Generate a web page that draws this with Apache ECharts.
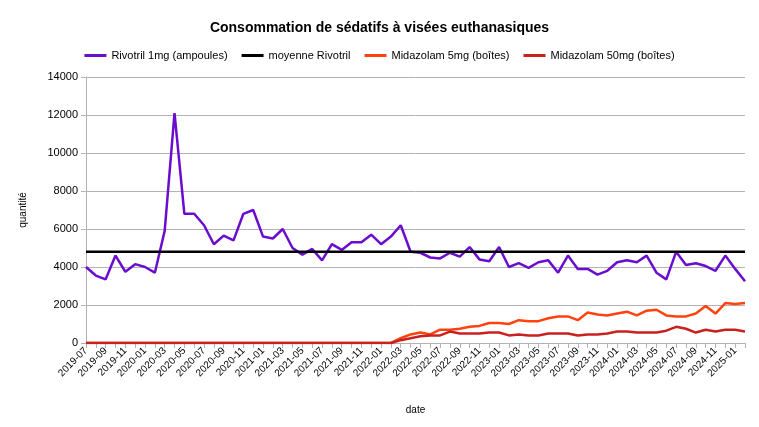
<!DOCTYPE html><html><head><meta charset="utf-8">
<script src="https://cdn.jsdelivr.net/npm/echarts@6/dist/echarts.min.js"></script>
<style>html,body{margin:0;padding:0;background:#fff}#c{width:759px;height:427px}</style></head><body><div id="c"></div>
<script>
const months=[];for(let y=2019;y<=2025;y++)for(let m=1;m<=12;m++){if((y===2019&&m<7)||(y===2025&&m>2))continue;months.push(y+'-'+String(m).padStart(2,'0'));}
const rivotril=[4000,3550,3350,4600,3750,4150,4000,3700,5900,12100,6800,6800,6200,5200,5650,5400,6800,7000,5600,5500,6000,5000,4650,4950,4350,5200,4900,5300,5300,5700,5200,5600,6200,4800,4750,4500,4450,4750,4550,5050,4400,4300,5050,4000,4200,3950,4250,4350,3700,4600,3900,3900,3600,3800,4250,4350,4250,4600,3700,3350,4800,4100,4200,4050,3800,4600,3900,3250];
const moyenne=4800;
const zeros31=new Array(31).fill(0);
const mida5=zeros31.concat([0,250,450,550,450,700,700,750,850,900,1050,1050,1000,1200,1150,1150,1300,1400,1400,1200,1600,1500,1450,1550,1650,1450,1700,1750,1450,1400,1400,1550,1950,1550,2100,2050,2100]);
const mida50=zeros31.concat([0,150,250,350,400,400,600,500,500,500,550,550,400,450,400,400,500,500,500,400,450,450,500,600,600,550,550,550,650,850,750,550,700,600,700,700,600]);
const F='Liberation Sans';
const c=echarts.init(document.getElementById('c'));
c.setOption({animation:false,textStyle:{fontFamily:F},
title:{text:'Consommation de sédatifs à visées euthanasiques',left:'center',top:16,textStyle:{fontSize:14,fontWeight:'bold',color:'#000',fontFamily:F}},
legend:{top:45,left:'center',itemWidth:22,itemHeight:3,itemGap:14,icon:'rect',textStyle:{fontSize:11,color:'#000'},
data:['Rivotril 1mg (ampoules)','moyenne Rivotril','Midazolam 5mg (boîtes)','Midazolam 50mg (boîtes)']},
grid:{left:86,right:14,top:77,bottom:84},
xAxis:{type:'category',data:months,boundaryGap:false,name:'date',nameLocation:'middle',nameGap:62,nameTextStyle:{fontSize:10,color:'#000'},
axisLine:{lineStyle:{color:'#b3b3b3'}},axisTick:{show:true,interval:0,lineStyle:{color:'#b3b3b3'}},
axisLabel:{interval:1,rotate:45,fontSize:10,color:'#000',margin:6}},
yAxis:{type:'value',min:0,max:14000,interval:2000,name:'quantité',nameLocation:'middle',nameGap:58,nameTextStyle:{fontSize:10,color:'#000'},
axisLine:{show:true,lineStyle:{color:'#b3b3b3'}},axisTick:{show:true,lineStyle:{color:'#b3b3b3'}},axisLabel:{fontSize:11,color:'#000',formatter:v=>String(v)},splitLine:{lineStyle:{color:'#b3b3b3'}}},
series:[
{name:'Rivotril 1mg (ampoules)',type:'line',data:rivotril,symbol:'none',lineStyle:{width:2.5,color:'#6a0dce'},itemStyle:{color:'#6a0dce'}},
{name:'moyenne Rivotril',type:'line',data:months.map(()=>moyenne),symbol:'none',lineStyle:{width:2.5,color:'#000'},itemStyle:{color:'#000'}},
{name:'Midazolam 5mg (boîtes)',type:'line',data:mida5,symbol:'none',lineStyle:{width:2.5,color:'#ff420e'},itemStyle:{color:'#ff420e'}},
{name:'Midazolam 50mg (boîtes)',type:'line',data:mida50,symbol:'none',lineStyle:{width:2.5,color:'#c9211e'},itemStyle:{color:'#c9211e'}}
]});
</script></body></html>
